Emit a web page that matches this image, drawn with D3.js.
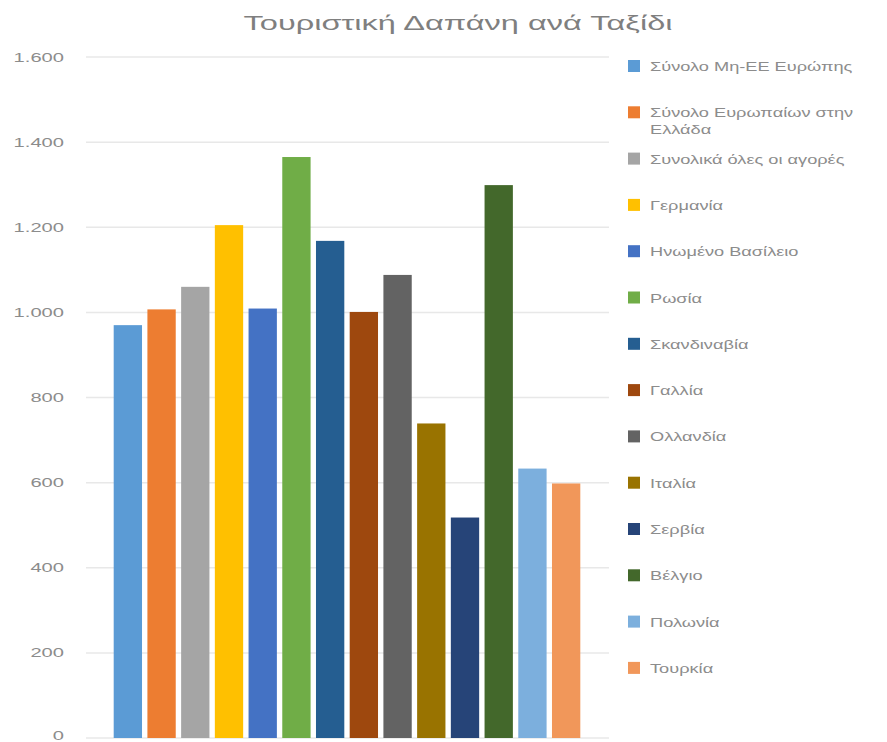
<!DOCTYPE html>
<html>
<head>
<meta charset="utf-8">
<script src="https://cdn.jsdelivr.net/npm/d3@7"></script>
<style>
  body { margin: 0; background: #fff; }
  text { font-family: "Liberation Sans", "DejaVu Sans", sans-serif; fill: #8c8c8c; }
</style>
</head>
<body>
<div id="chart"></div>
<script>
// series names (legend) and values
var seriesNames = [
    "Σύνολο Μη-ΕΕ Ευρώπης",
    "Σύνολο Ευρωπαίων στην Ελλάδα",
    "Συνολικά όλες οι αγορές",
    "Γερμανία",
    "Ηνωμένο Βασίλειο",
    "Ρωσία",
    "Σκανδιναβία",
    "Γαλλία",
    "Ολλανδία",
    "Ιταλία",
    "Σερβία",
    "Βέλγιο",
    "Πολωνία",
    "Τουρκία"
];
var spendPerTrip = [970, 1007, 1060, 1205, 1009, 1365, 1168, 1001, 1088, 739, 518, 1299, 633, 598];
var barColors = ["#5B9BD5", "#ED7D31", "#A5A5A5", "#FFC000", "#4472C4", "#70AD47", "#255E91",
                 "#9E480E", "#636363", "#997300", "#264478", "#43682B", "#7CAFDD", "#F1975A"];
var yTicks = [0, 200, 400, 600, 800, 1000, 1200, 1400, 1600];
var titleText = "Τουριστική Δαπάνη ανά Ταξίδι";

var svgWidth = 887, svgHeight = 742;
var svg = d3.select("#chart").append("svg")
    .attr("width", svgWidth)
    .attr("height", svgHeight);

// plot area
var plotLeft = 86, plotRight = 609, plotTop = 57, plotBottom = 738;

var x = d3.scaleBand()
    .domain(d3.range(seriesNames.length))
    .range([111, 583])
    .paddingInner(0.16)
    .paddingOuter(0.08);

var y = d3.scaleLinear().domain([0, 1600]).range([plotBottom, plotTop]);

// gridlines
svg.append("g").selectAll("line").data(yTicks).enter().append("line")
    .attr("x1", plotLeft).attr("x2", plotRight)
    .attr("y1", d => y(d)).attr("y2", d => y(d))
    .attr("stroke", "#e8e8e8").attr("stroke-width", 1.5);

// y axis labels (text in the reference is stretched sideways)
var fmt = d3.formatLocale({ decimal: ",", thousands: ".", grouping: [3], currency: ["", "€"] }).format(",d");
var tickG = svg.append("g");
tickG.selectAll("g").data(yTicks).enter().append("g")
    .attr("transform", d => `translate(64, ${d === 0 ? y(d) - 3 : y(d)}) scale(1.55,1)`)
    .append("text")
    .attr("text-anchor", "end")
    .attr("dy", "0.35em")
    .style("font-size", "13px")
    .text(d => fmt(d));

// bars
svg.append("g").selectAll("rect").data(spendPerTrip).enter().append("rect")
    .attr("x", (d, i) => x(i))
    .attr("width", x.bandwidth())
    .attr("y", d => y(d))
    .attr("height", d => plotBottom - y(d))
    .attr("fill", (d, i) => barColors[i]);

// title
svg.append("g").attr("transform", "translate(458, 30) scale(1.55,1)")
    .append("text")
    .attr("text-anchor", "middle")
    .style("font-size", "21px")
    .style("fill", "#7f7f7f")
    .text(titleText);

// legend
var legend = svg.append("g");
var rows = legend.selectAll("g").data(seriesNames).enter().append("g")
    .attr("transform", (d, i) => `translate(628, ${66 + i * 46.3})`);
rows.append("rect")
    .attr("x", 0).attr("y", -6).attr("width", 12).attr("height", 12)
    .attr("fill", (d, i) => barColors[i]);
rows.append("g").attr("transform", "translate(22,5) scale(1.4,1)")
    .append("text")
    .style("font-size", "13px")
    .each(function(d) {
        var t = d3.select(this);
        if (d === "Σύνολο Ευρωπαίων στην Ελλάδα") {
            t.append("tspan").attr("x", 0).attr("dy", 0).text("Σύνολο Ευρωπαίων στην");
            t.append("tspan").attr("x", 0).attr("dy", 17).text("Ελλάδα");
        } else {
            t.text(d);
        }
    });
</script>
</body>
</html>
